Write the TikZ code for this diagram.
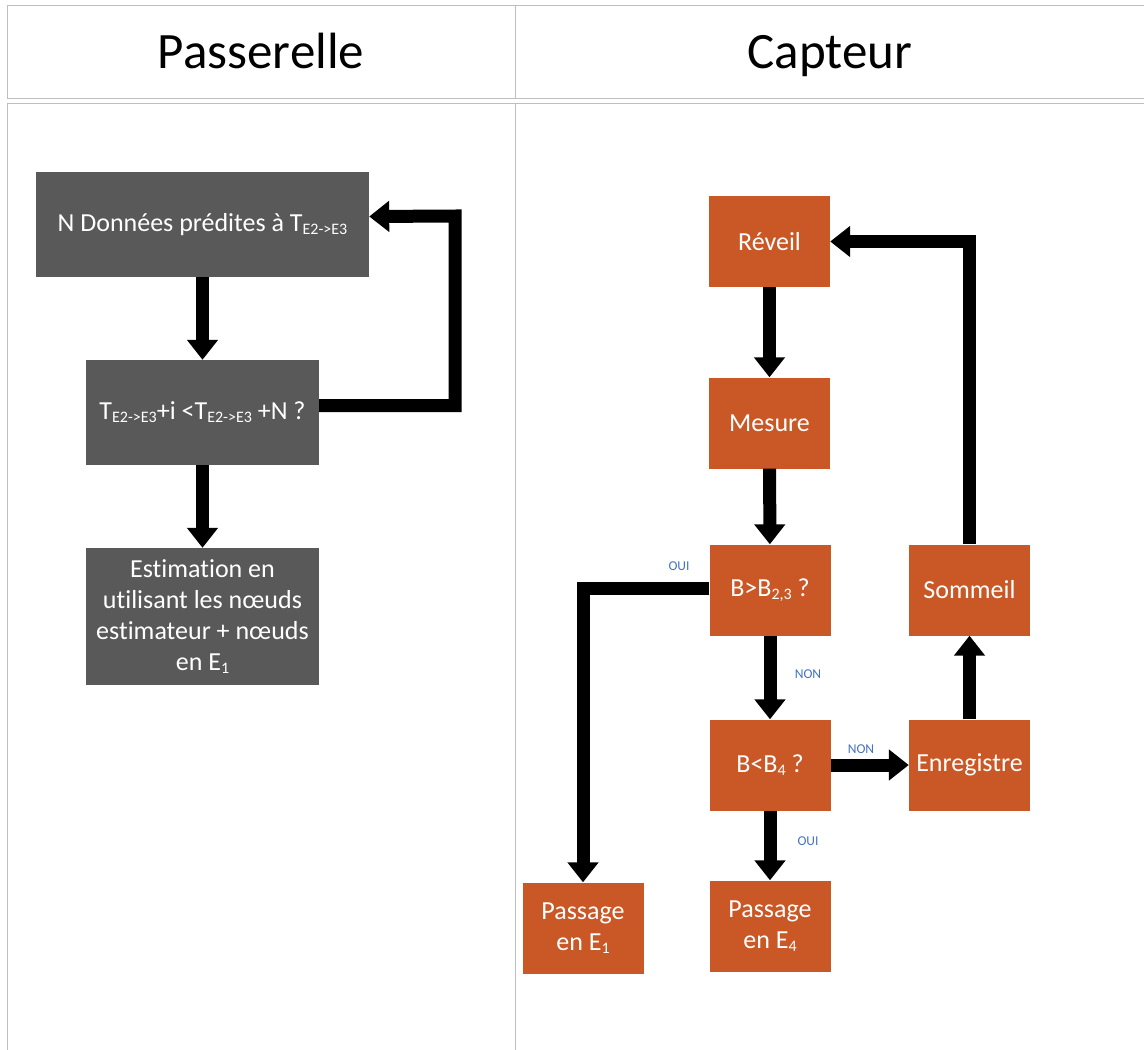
\documentclass[tikz,border=0pt]{standalone}
\usepackage{fontspec}
\setmainfont{Carlito}[Ligatures={NoCommon}]
\usetikzlibrary{arrows.meta}
\definecolor{boxgray}{RGB}{89,89,89}
\definecolor{boxorange}{RGB}{202,88,38}
\definecolor{lblblue}{RGB}{68,114,196}
\definecolor{gridgray}{RGB}{190,190,190}
\newcommand{\mysub}[1]{\raisebox{-0.25ex}{\fontsize{16}{16}\selectfont #1}}
\begin{document}
\begin{tikzpicture}[x=1pt,y=-1pt,
 grayblock/.style={rectangle, fill=boxgray, text=white, inner sep=0pt, font=\fontsize{26}{31}\selectfont, align=center},
 orangeblock/.style={rectangle, fill=boxorange, text=white, minimum width=121pt, minimum height=91pt, inner sep=0pt, font=\fontsize{26}{31}\selectfont, align=center},
 flow/.style={line width=13pt, -{Triangle[width=30pt,length=20pt]}, line join=miter},
 lbl/.style={text=lblblue, font=\fontsize{13.5}{13.5}\selectfont, inner sep=0pt},
 gridline/.style={draw=gridgray, line width=1pt},
 headtxt/.style={font=\fontsize{51}{51}\selectfont, inner sep=0pt, anchor=base}]
\useasboundingbox (0,0) rectangle (1144,1050);
% table
\draw[gridline] (1144,5) -- (7,5) -- (7,98) -- (1144,98);
\draw[gridline] (515,5) -- (515,98);
\draw[gridline] (1144,103) -- (7,103) -- (7,1050);
\draw[gridline] (515,103) -- (515,1050);
\node[headtxt] (h1) at (261,68) {Passerelle};
\node[headtxt] (h2) at (830,68) {Capteur};
% left column
\node[grayblock, minimum width=333pt, minimum height=105pt] (g1) at (202.5,224.5) {N Données prédites à T\mysub{E2->E3}};
\node[grayblock, minimum width=233pt, minimum height=105pt] (g2) at (202.5,412.5) {T\mysub{E2->E3}+i <T\mysub{E2->E3} +N ?};
\node[grayblock, minimum width=233pt, minimum height=137pt] (g3) at (202.5,616.5) {Estimation en\\utilisant les nœuds\\estimateur + nœuds\\en E\mysub{1}};
\draw[flow] (g1) -- (g2);
\draw[flow] (g2) -- (g3);
\coordinate (gl) at (455,216);
\draw[flow] ([yshift=7pt]g2.east) -| (gl) -- ([yshift=8pt]g1.east);
% right column
\node[orangeblock] (rev) at (769.5,241.5) {Réveil};
\node[orangeblock] (mes) at (769.5,423) {Mesure};
\node[orangeblock] (b23) at (770,590) {B>B\mysub{2,3} ?};
\node[orangeblock] (b4) at (770,765) {B<B\mysub{4} ?};
\node[orangeblock] (enr) at (969.5,765) {Enregistre};
\node[orangeblock] (som) at (969.5,590) {Sommeil};
\node[orangeblock] (e1) at (583,928) {Passage\\en E\mysub{1}};
\node[orangeblock] (e4) at (770,926) {Passage\\en E\mysub{4}};
\draw[flow] (rev) -- (mes);
\draw[flow] (mes) -- (b23);
\draw[flow] (b23) -- (b4);
\draw[flow] (b4) -- (enr);
\draw[flow] (b4) -- (e4);
\draw[flow] (enr) -- (som);
\draw[flow] (som.north) |- (rev.east);
\draw[flow] ([yshift=2pt]b23.west) -| (e1.north);
\node[lbl] (l1) at (679,566) {OUI};
\node[lbl] (l2) at (808,674) {NON};
\node[lbl] (l3) at (861,749) {NON};
\node[lbl] (l4) at (808,841) {OUI};
\end{tikzpicture}
\end{document}
